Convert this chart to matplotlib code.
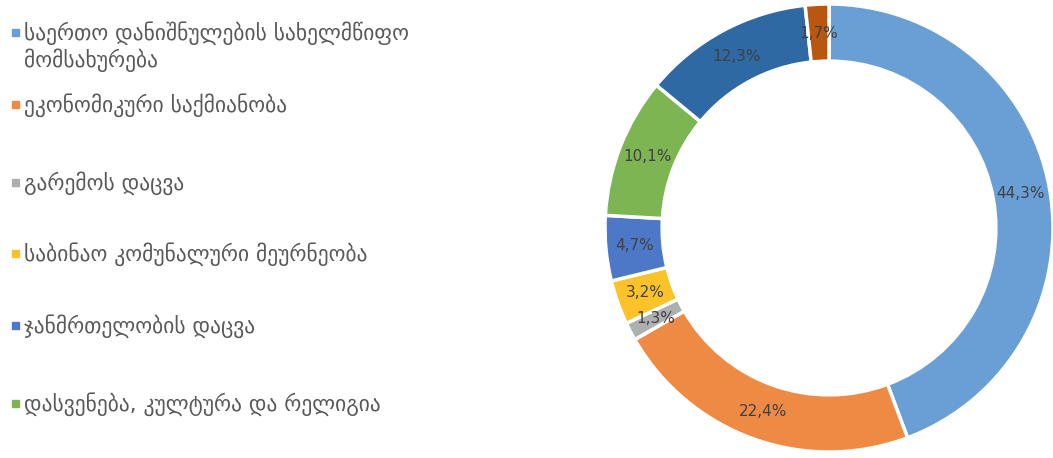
import numpy as np
import matplotlib.pyplot as plt
from matplotlib.patches import Rectangle

# Data
categories = [
    'საერთო დანიშნულების სახელმწიფო\nმომსახურება',
    'ეკონომიკური საქმიანობა',
    'გარემოს დაცვა',
    'საბინაო კომუნალური მეურნეობა',
    'ჯანმრთელობის დაცვა',
    'დასვენება, კულტურა და რელიგია',
    'განათლება',
    'სოციალური დაცვა',
]
shares = [44.3, 22.4, 1.3, 3.2, 4.7, 10.1, 12.3, 1.7]
colors = ['#6a9fd6', '#ef8a45', '#adb0b0', '#fcc22a', '#4d78c8', '#7cb552', '#2f69a3', '#b9560f']
legend_shown = 6

W, H = 1053, 458
fig = plt.figure(figsize=(W / 100, H / 100), dpi=100)

# Donut
cx, cy, r = 829, 230, 224
ax = fig.add_axes([(cx - r) / W, (cy - r) / H, 2 * r / W, 2 * r / H])
wedges, _ = ax.pie(shares, colors=colors, startangle=90, counterclock=False,
                   radius=1.0, wedgeprops=dict(width=0.255, edgecolor='white', linewidth=2.5))
ax.set_xlim(-1, 1)
ax.set_ylim(-1, 1)
ax.set_aspect('equal')
ax.axis('off')

angle = 90.0
for v in shares:
    mid = np.deg2rad(angle - v / 2 * 3.6)
    angle -= v * 3.6
    rr = 0.87
    ax.text(rr * np.cos(mid), rr * np.sin(mid), f'{v:.1f}%'.replace('.', ','),
            ha='center', va='center', fontsize=11, color='#404040')

# Legend drawn by hand
ys = [33, 105, 183, 254, 326, 404]
for i in range(legend_shown):
    y = ys[i]
    fig.patches.append(Rectangle((12 / W, 1 - (y + 3) / H), 7 / W, 7 / H,
                                 transform=fig.transFigure, color=colors[i]))
    fig.text(24 / W, 1 - (y - 12) / H, categories[i], ha='left', va='top',
             fontsize=15.5, color='#595959', family=['DejaVu Sans'], linespacing=1.2)

fig.savefig('out.png', dpi=100)
